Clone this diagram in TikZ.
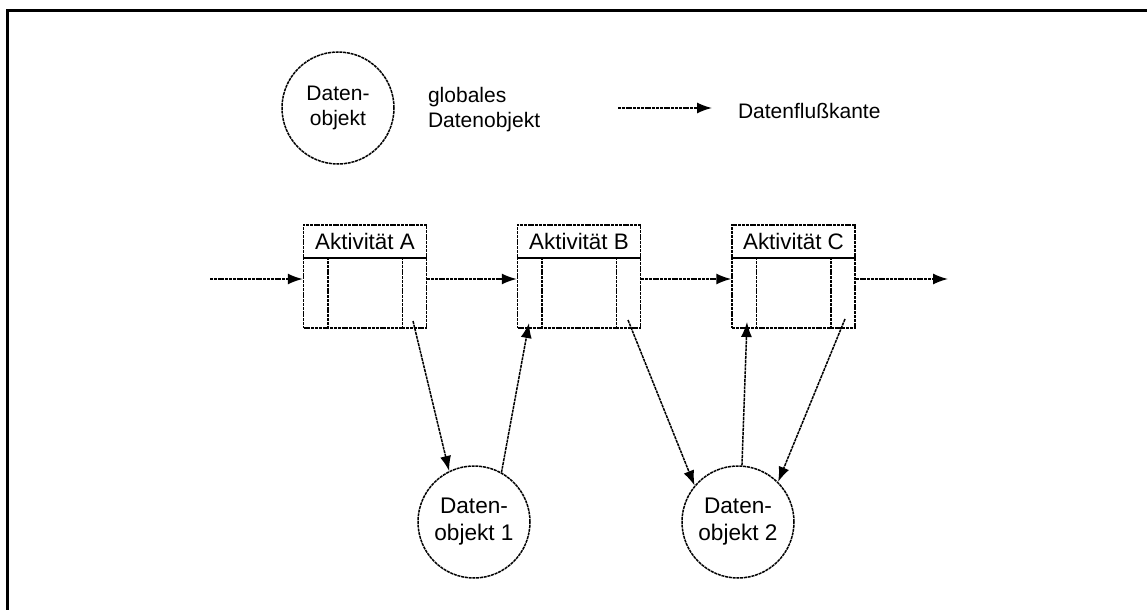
\documentclass[tikz,border=0pt]{standalone}
\usepackage{fontspec}
\setmainfont{Liberation Sans}
\usetikzlibrary{arrows.meta}

\tikzset{
  fein/.style={line width=0.75pt, dash pattern=on 1.5pt off 0.4pt},
  fluss/.style={fein, -{Latex[length=7.5pt,width=5.5pt]}},
  objekt/.style={draw, fein, circle, minimum size=56pt, inner sep=0pt, align=center},
  kopf/.style={draw, fein, minimum width=61.5pt, minimum height=16.5pt, inner sep=0pt,
    font=\fontsize{11.2}{13}\selectfont},
  rumpf/.style={draw, fein, minimum width=61.5pt, minimum height=35pt, inner sep=0pt},
}

\begin{document}
\begin{tikzpicture}[x=0.5pt, y=-0.5pt, font=\fontsize{10.5}{12.5}\selectfont]
        \useasboundingbox (0,0) rectangle (1147,610);
        \draw[line width=1.5pt] (7,610) -- (7,11) -- (1147,11);

        % Legende
        \node[objekt] (L) at (338,108) {Daten-\\objekt};
        \node[align=left, anchor=west] (G) at (421,110) {globales\\Datenobjekt};
        \coordinate (p1) at (618,108);
        \coordinate (p2) at (712,108);
        \draw[fluss] (p1) -- (p2);
        \node[anchor=west] (K) at (731,111) {Datenflußkante};

        % Aktivitaeten
        \node[kopf]  (hA) at (365,241.5) {Aktivität A};
        \node[rumpf] (bA) at (365,293)   {};
        \node[kopf]  (hB) at (579,241.5) {Aktivität B};
        \node[rumpf] (bB) at (579,293)   {};
        \node[kopf]  (hC) at (793.5,241.5) {Aktivität C};
        \node[rumpf] (bC) at (793.5,293)   {};

        \foreach \a in {A,B,C} {
            \draw[fein] ([xshift=12.5pt]b\a.north west) -- ([xshift=12.5pt]b\a.south west);
            \draw[fein] ([xshift=-12.5pt]b\a.north east) -- ([xshift=-12.5pt]b\a.south east);
        }

        % Datenobjekte
        \node[objekt, font=\fontsize{11.3}{13.5}\selectfont] (D1) at (474,522) {Daten-\\objekt 1};
        \node[objekt, font=\fontsize{11.3}{13.5}\selectfont] (D2) at (738,522) {Daten-\\objekt 2};

        \coordinate (ein) at (210,279);
        \coordinate (aus) at (948,279);
        \coordinate (aA) at (413,321);
        \coordinate (eB) at (529,323);
        \coordinate (aB) at (628,320);
        \coordinate (eC) at (747,322);
        \coordinate (aC) at (845,319);

        \draw[fluss] (ein) -- (bA.west |- ein);
        \draw[fluss] (bA.east |- ein) -- (bB.west |- ein);
        \draw[fluss] (bB.east |- ein) -- (bC.west |- ein);
        \draw[fluss] (bC.east |- ein) -- (aus);

        \draw[fluss] (aA) -- (D1.116);
        \draw[fluss] (D1.61) -- (eB);
        \draw[fluss] (aB) -- (D2.140);
        \draw[fluss] (D2.86) -- (eC);
        \draw[fluss] (aC) -- (D2.45);
\end{tikzpicture}
\end{document}
